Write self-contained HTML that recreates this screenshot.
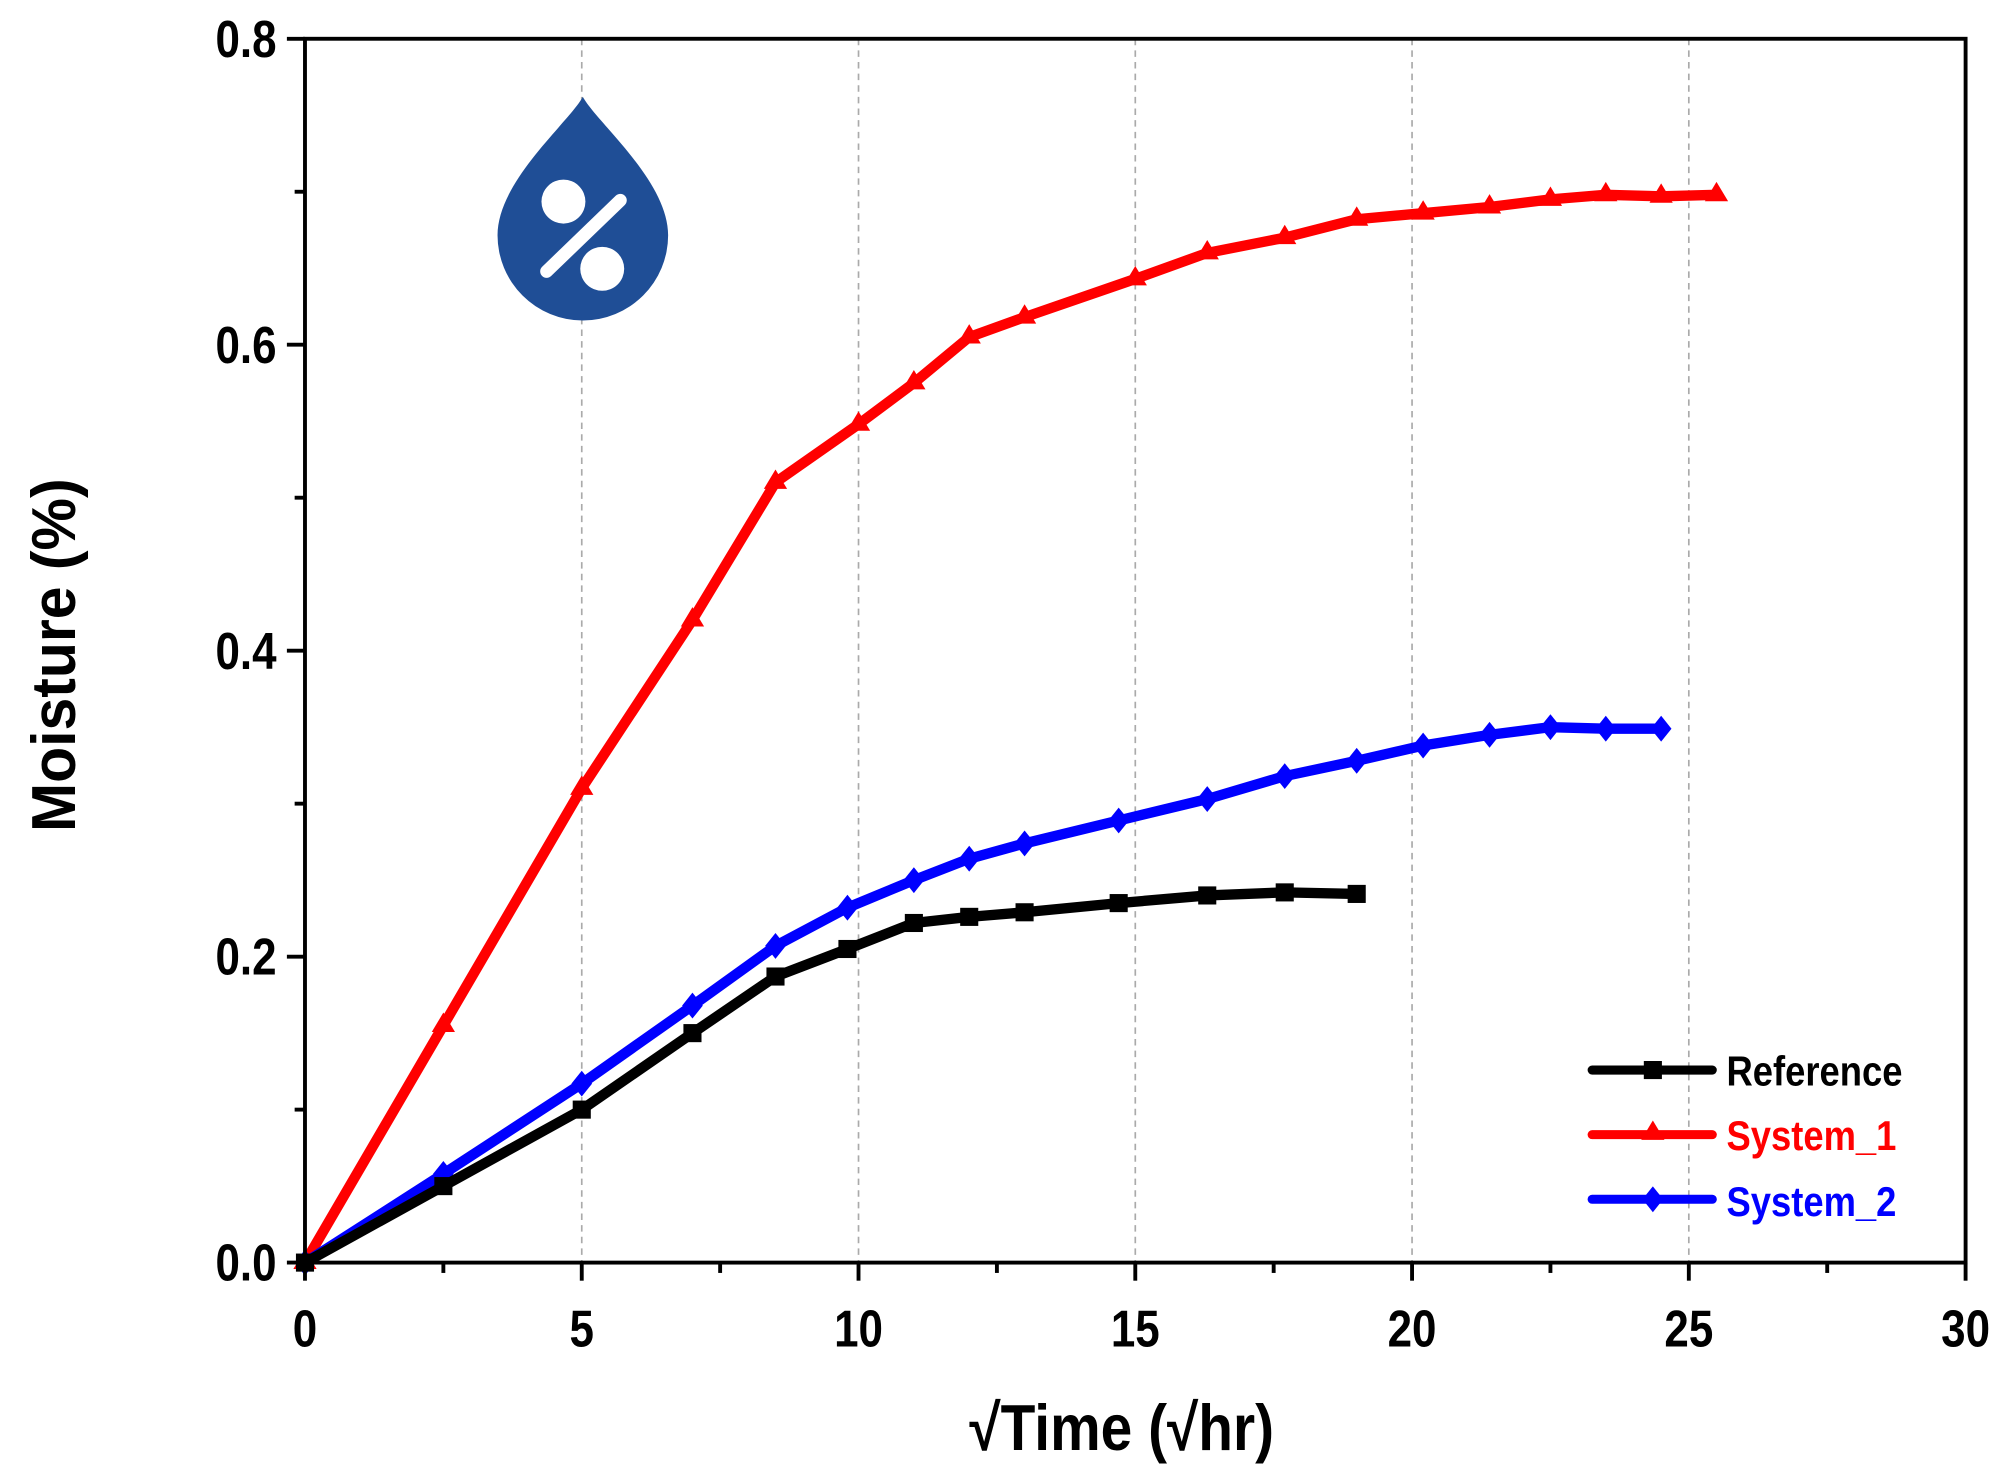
<!DOCTYPE html>
<html><head><meta charset="utf-8"><style>
html,body{margin:0;padding:0;background:#fff;}
svg{display:block;}
text{font-family:"Liberation Sans",Arial,sans-serif;font-weight:bold;}
</style></head><body>
<svg id="c" width="2016" height="1481" viewBox="0 0 1560 1146" preserveAspectRatio="none" xmlns="http://www.w3.org/2000/svg">
<rect width="1560" height="1146" fill="#fff"/>
<g id="grid" stroke="#aaa" stroke-width="1.3" stroke-dasharray="5,4"></g>
<path d="M451,75 C440,95 385,140 385,182 A66,66 0 0 0 517,182 C517,140 462,95 451,75Z" fill="#1f4e96"/>
<circle cx="436" cy="156" r="17" fill="#fff"/>
<circle cx="466" cy="208" r="17" fill="#fff"/>
<line x1="423" y1="210" x2="480" y2="155" stroke="#fff" stroke-width="10" stroke-linecap="round"/>
<g id="series"></g>
<rect x="236" y="30" width="1285" height="947" fill="none" stroke="#000" stroke-width="3"/>
<g id="ticks" stroke="#000" stroke-width="3"></g>
<g id="labels" font-size="40" fill="#000"></g>
<text x="868" y="1122" font-size="50" text-anchor="middle" transform="translate(868 0) scale(0.88 1) translate(-868 0)">√Time (√hr)</text>
<text transform="translate(58 507) rotate(-90) scale(0.95 1)" font-size="48" text-anchor="middle">Moisture (%)</text>
<g font-size="32">
<line x1="1232" y1="828" x2="1325" y2="828" stroke="#000" stroke-width="7" stroke-linecap="round"/>
<rect x="1272" y="821" width="14" height="14" fill="#000"/>
<text x="1336" y="840" fill="#000" transform="translate(1336 0) scale(0.88 1) translate(-1336 0)">Reference</text>
<line x1="1232" y1="878" x2="1325" y2="878" stroke="#f00" stroke-width="7" stroke-linecap="round"/>
<polygon points="1279,867 1288,882 1270,882" fill="#f00"/>
<text x="1336" y="890" fill="#f00" transform="translate(1336 0) scale(0.88 1) translate(-1336 0)">System_1</text>
<line x1="1232" y1="928" x2="1325" y2="928" stroke="#00f" stroke-width="7" stroke-linecap="round"/>
<polygon points="1279,918 1287,928 1279,938 1271,928" fill="#00f"/>
<text x="1336" y="941" fill="#00f" transform="translate(1336 0) scale(0.88 1) translate(-1336 0)">System_2</text>
</g>
</svg>
<script>
var NS="http://www.w3.org/2000/svg";
function X(v){return 236+v*42.833;}
function Y(v){return 977-v*1183.75;}
function el(p,t,a){var e=document.createElementNS(NS,t);for(var k in a)e.setAttribute(k,a[k]);p.appendChild(e);return e;}
var g=document.getElementById('grid');
[5,10,15,20,25].forEach(function(v){el(g,'line',{x1:X(v),y1:30,x2:X(v),y2:977});});
var t=document.getElementById('ticks'),L=document.getElementById('labels');
for(var v=0;v<=30;v+=2.5){var maj=v%5==0;el(t,'line',{x1:X(v),y1:977,x2:X(v),y2:977+(maj?14:8)});
 if(maj){var x=X(v);var tx=el(L,'text',{x:x,y:1042,'text-anchor':'middle',transform:'translate('+x+' 0) scale(0.85 1) translate('+(-x)+' 0)'});tx.textContent=v;}}
for(var i=0;i<=8;i++){var y=Y(i/10),maj=i%2==0;el(t,'line',{x1:236-(maj?14:8),y1:y,x2:236,y2:y});
 if(maj){var tx=el(L,'text',{x:214,y:y+14,'text-anchor':'end',transform:'translate(214 0) scale(0.85 1) translate(-214 0)'});tx.textContent=(i/10).toFixed(1);}}
var S=document.getElementById('series');
var ref=[[0,0],[2.5,0.05],[5,0.1],[7,0.15],[8.5,0.187],[9.8,0.205],[11,0.222],[12,0.226],[13,0.229],[14.7,0.235],[16.3,0.24],[17.7,0.242],[19,0.241]];
var s1=[[0,0],[2.5,0.155],[5,0.31],[7,0.42],[8.5,0.51],[10,0.548],[11,0.575],[12,0.605],[13,0.618],[15,0.643],[16.3,0.66],[17.7,0.67],[19,0.682],[20.2,0.686],[21.4,0.69],[22.5,0.695],[23.5,0.698],[24.5,0.697],[25.5,0.698]];
var s2=[[0,0],[2.5,0.058],[5,0.117],[7,0.168],[8.5,0.207],[9.8,0.232],[11,0.25],[12,0.264],[13,0.274],[14.7,0.289],[16.3,0.303],[17.7,0.318],[19,0.328],[20.2,0.338],[21.4,0.345],[22.5,0.35],[23.5,0.349],[24.5,0.349]];
function draw(d,c,m){
 el(S,'polyline',{points:d.map(function(p){return X(p[0])+','+Y(p[1]);}).join(' '),fill:'none',stroke:c,'stroke-width':8,'stroke-linejoin':'round'});
 d.forEach(function(p){var x=X(p[0]),y=Y(p[1]);
  if(m=='s')el(S,'rect',{x:x-7,y:y-7,width:14,height:14,fill:c});
  else if(m=='t')el(S,'polygon',{points:(x)+','+(y-10)+' '+(x+9)+','+(y+5)+' '+(x-9)+','+(y+5),fill:c});
  else el(S,'polygon',{points:x+','+(y-10)+' '+(x+8)+','+y+' '+x+','+(y+10)+' '+(x-8)+','+y,fill:c});});
}
draw(s1,'#f00','t');draw(s2,'#00f','d');draw(ref,'#000','s');
</script>
</body></html>
